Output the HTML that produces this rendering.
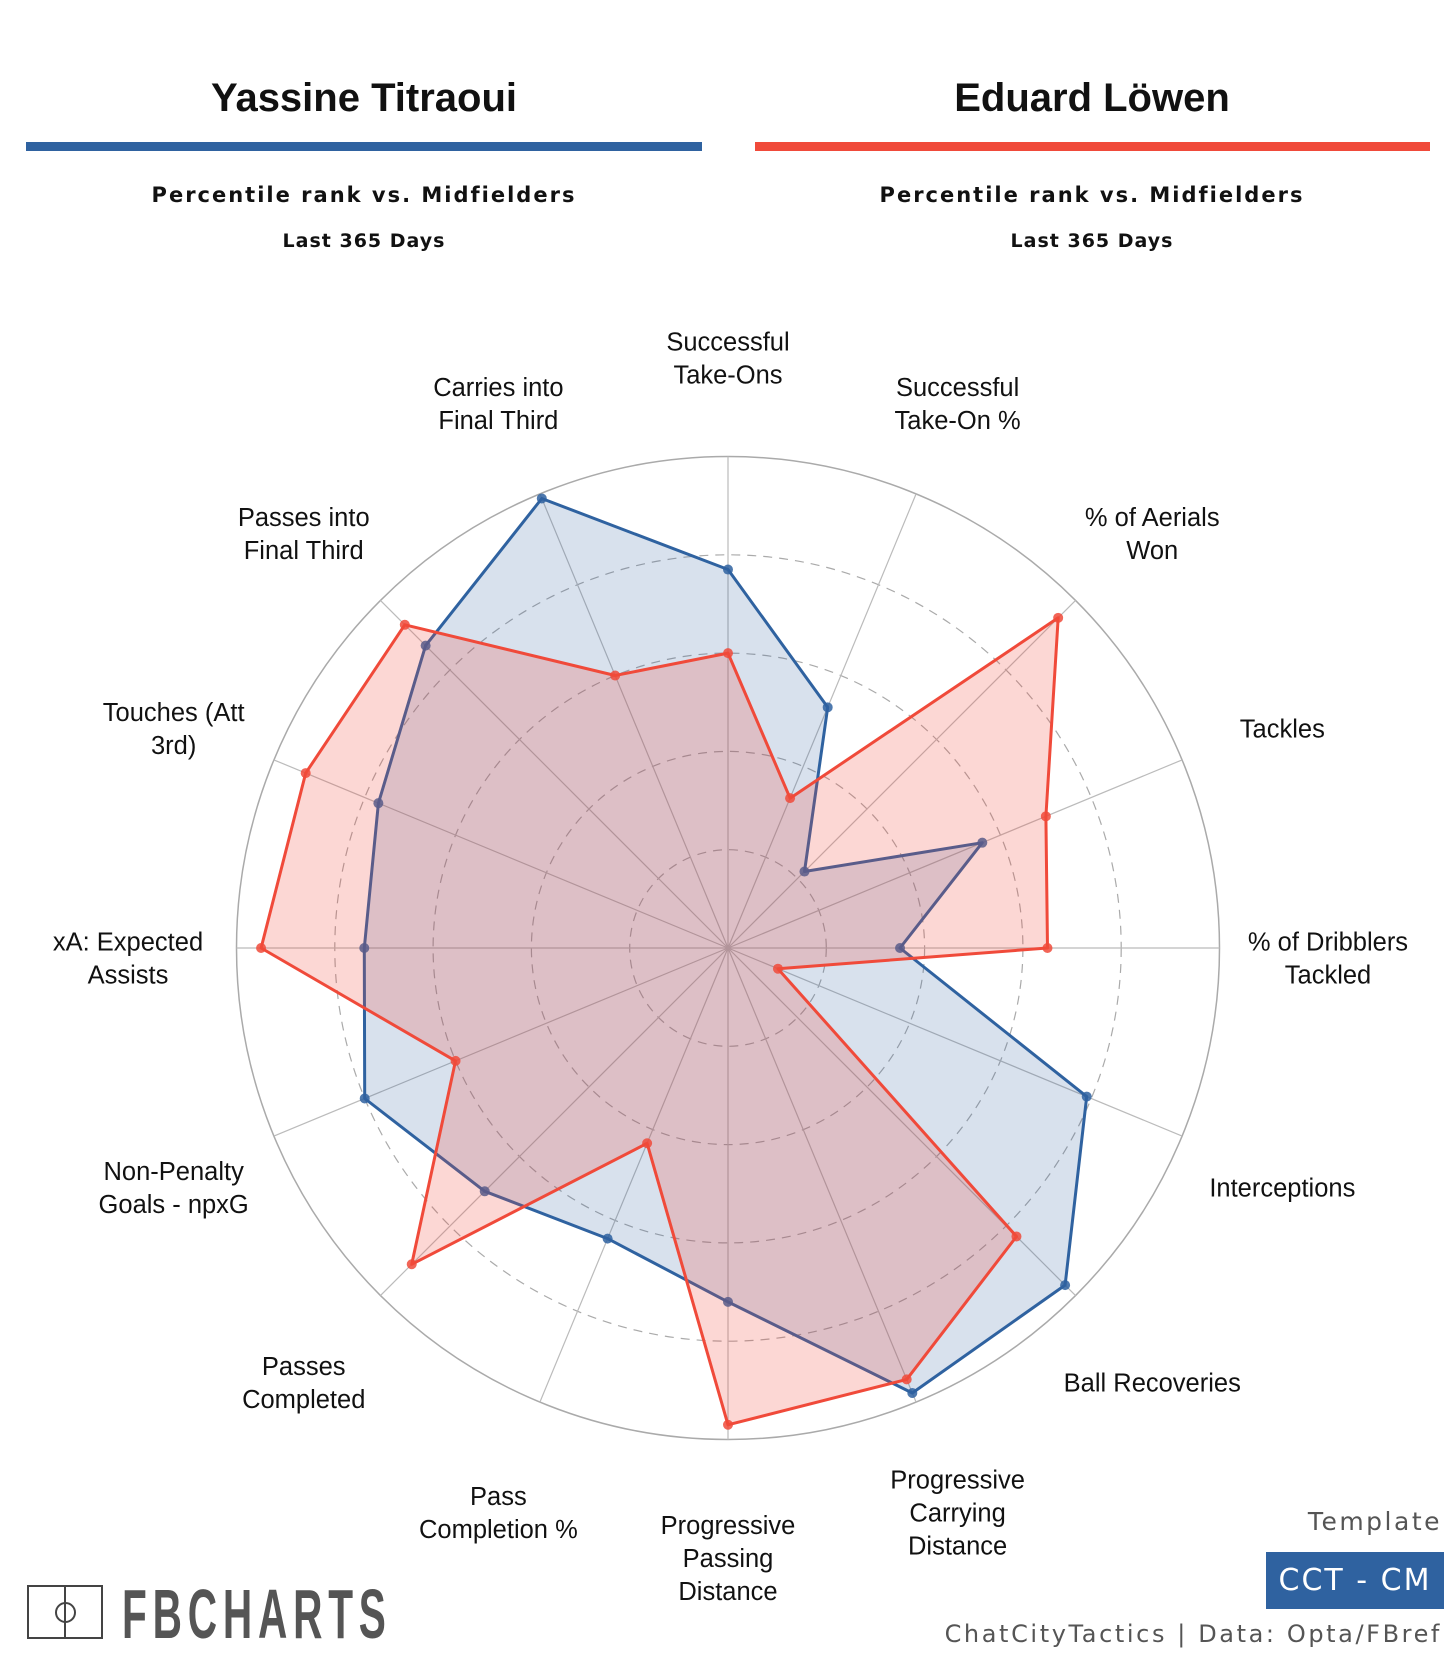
<!DOCTYPE html>
<html><head><meta charset="utf-8"><style>
body{margin:0;background:#fff;}
#wrap{position:relative;width:1456px;height:1664px;overflow:hidden;font-family:"Liberation Sans","DejaVu Sans",sans-serif;}
.t{position:absolute;white-space:nowrap;}
</style></head><body>
<div id="wrap">
<div class="t" style="left:364px;top:76px;transform:translateX(-50%);font-size:40px;font-weight:bold;color:#111;">Yassine Titraoui</div>
<div style="position:absolute;left:26px;top:142px;width:676px;height:9px;background:#2f62a0;"></div>
<div class="t" style="left:364px;top:183px;transform:translateX(-50%);font-family:'DejaVu Sans',sans-serif;font-size:21px;font-weight:bold;letter-spacing:2px;color:#111;">Percentile rank vs. Midfielders</div>
<div class="t" style="left:364px;top:230px;transform:translateX(-50%);font-family:'DejaVu Sans',sans-serif;font-size:19px;font-weight:bold;letter-spacing:1px;color:#111;">Last 365 Days</div>
<div class="t" style="left:1092px;top:76px;transform:translateX(-50%);font-size:40px;font-weight:bold;color:#111;">Eduard Löwen</div>
<div style="position:absolute;left:755px;top:142px;width:675px;height:9px;background:#f04a3a;"></div>
<div class="t" style="left:1092px;top:183px;transform:translateX(-50%);font-family:'DejaVu Sans',sans-serif;font-size:21px;font-weight:bold;letter-spacing:2px;color:#111;">Percentile rank vs. Midfielders</div>
<div class="t" style="left:1092px;top:230px;transform:translateX(-50%);font-family:'DejaVu Sans',sans-serif;font-size:19px;font-weight:bold;letter-spacing:1px;color:#111;">Last 365 Days</div>

<svg id="radar" width="1456" height="1664" style="position:absolute;left:0;top:0;"></svg>

<div class="t" style="right:14px;top:1507px;font-family:'DejaVu Sans',sans-serif;font-size:25px;letter-spacing:2.5px;color:#555;">Template</div>
<div style="position:absolute;left:1266px;top:1552px;width:178px;height:57px;background:#2f62a0;color:#fff;font-family:'DejaVu Sans',sans-serif;font-size:30px;letter-spacing:2px;line-height:57px;text-align:center;">CCT - CM</div>
<div class="t" style="right:14px;top:1620px;font-family:'DejaVu Sans',sans-serif;font-size:24px;letter-spacing:2.6px;color:#555;">ChatCityTactics | Data: Opta/FBref</div>
<div style="position:absolute;left:27px;top:1585px;width:72px;height:50px;border:2px solid #444;">
<div style="position:absolute;left:35px;top:0;width:2px;height:50px;background:#444;"></div>
<div style="position:absolute;left:26px;top:15px;width:17px;height:17px;border:2px solid #444;border-radius:50%;"></div>
</div>
<div class="t" style="left:122px;top:1574px;font-size:70px;font-weight:bold;color:#555;letter-spacing:10px;transform:scaleX(0.58);transform-origin:left top;">FBCHARTS</div>
</div>
<script>
const categories=["Successful\nTake-Ons","Successful\nTake-On %","% of Aerials\nWon","Tackles","% of Dribblers\nTackled","Interceptions","Ball Recoveries","Progressive\nCarrying\nDistance","Progressive\nPassing\nDistance","Pass\nCompletion %","Passes\nCompleted","Non-Penalty\nGoals - npxG","xA: Expected\nAssists","Touches (Att\n3rd)","Passes into\nFinal Third","Carries into\nFinal Third"];
const titraoui=[77,53,22,56,35,79,97,98,72,64,70,80,74,77,87,99];
const lowen=[60,33,95,70,65,11,83,95,97,43,91,60,95,93,93,60];
const ringTicks=[20,40,60,80];
const svg=document.getElementById('radar');
const NS='http://www.w3.org/2000/svg';
const cx=728,cy=948,R=491.5;
function ang(i){return (i*360/categories.length)*Math.PI/180;}
function px(i,v){return cx+Math.sin(ang(i))*R*v/100;}
function py(i,v){return cy-Math.cos(ang(i))*R*v/100;}
function mk(tag,attrs){const e=document.createElementNS(NS,tag);for(const k in attrs)e.setAttribute(k,attrs[k]);svg.appendChild(e);return e;}
let c=mk('circle',{cx:cx,cy:cy,r:R,fill:'none',stroke:'#aaa','stroke-width':1.5});


ringTicks.forEach(t=>{
 const e=mk('circle',{cx:cx,cy:cy,r:R*t/100,fill:'none',stroke:'#aaa','stroke-width':1.2,'stroke-dasharray':'9 7'});
 
 
});
categories.forEach((cat,i)=>{
 const l=mk('line',{x1:cx,y1:cy,x2:px(i,100),y2:py(i,100),stroke:'#bbb','stroke-width':1.2});
 
 
});
function series(vals,color,fill,name){
 const pts=vals.map((v,i)=>px(i,v).toFixed(1)+','+py(i,v).toFixed(1)).join(' ');
 const p=mk('polygon',{points:pts,fill:fill,stroke:color,'stroke-width':3,'stroke-linejoin':'round'});
 
 
 vals.forEach((v,i)=>{
  const d=mk('circle',{cx:px(i,v),cy:py(i,v),r:5,fill:color,opacity:0.85});
  
  
 });
}
series(titraoui,'#2f62a0','rgba(47,98,160,0.19)','titraoui');
series(lowen,'#f04a3a','rgba(240,74,58,0.22)','lowen');
categories.forEach((cat,i)=>{
 const lines=cat.split('\n');
 const lx=cx+Math.sin(ang(i))*600, ly=cy-Math.cos(ang(i))*600;
 const lh=33, y0=ly-(lines.length-1)*lh/2+19;
 const t=mk('text',{x:lx,'text-anchor':'middle','font-size':25.5,fill:'#111','font-family':'Liberation Sans, sans-serif'});
 
 
 lines.forEach((ln,k)=>{const s=document.createElementNS(NS,'tspan');s.setAttribute('x',lx);s.setAttribute('y',y0+k*lh);s.textContent=ln;t.appendChild(s);});
});
</script>
</body></html>
